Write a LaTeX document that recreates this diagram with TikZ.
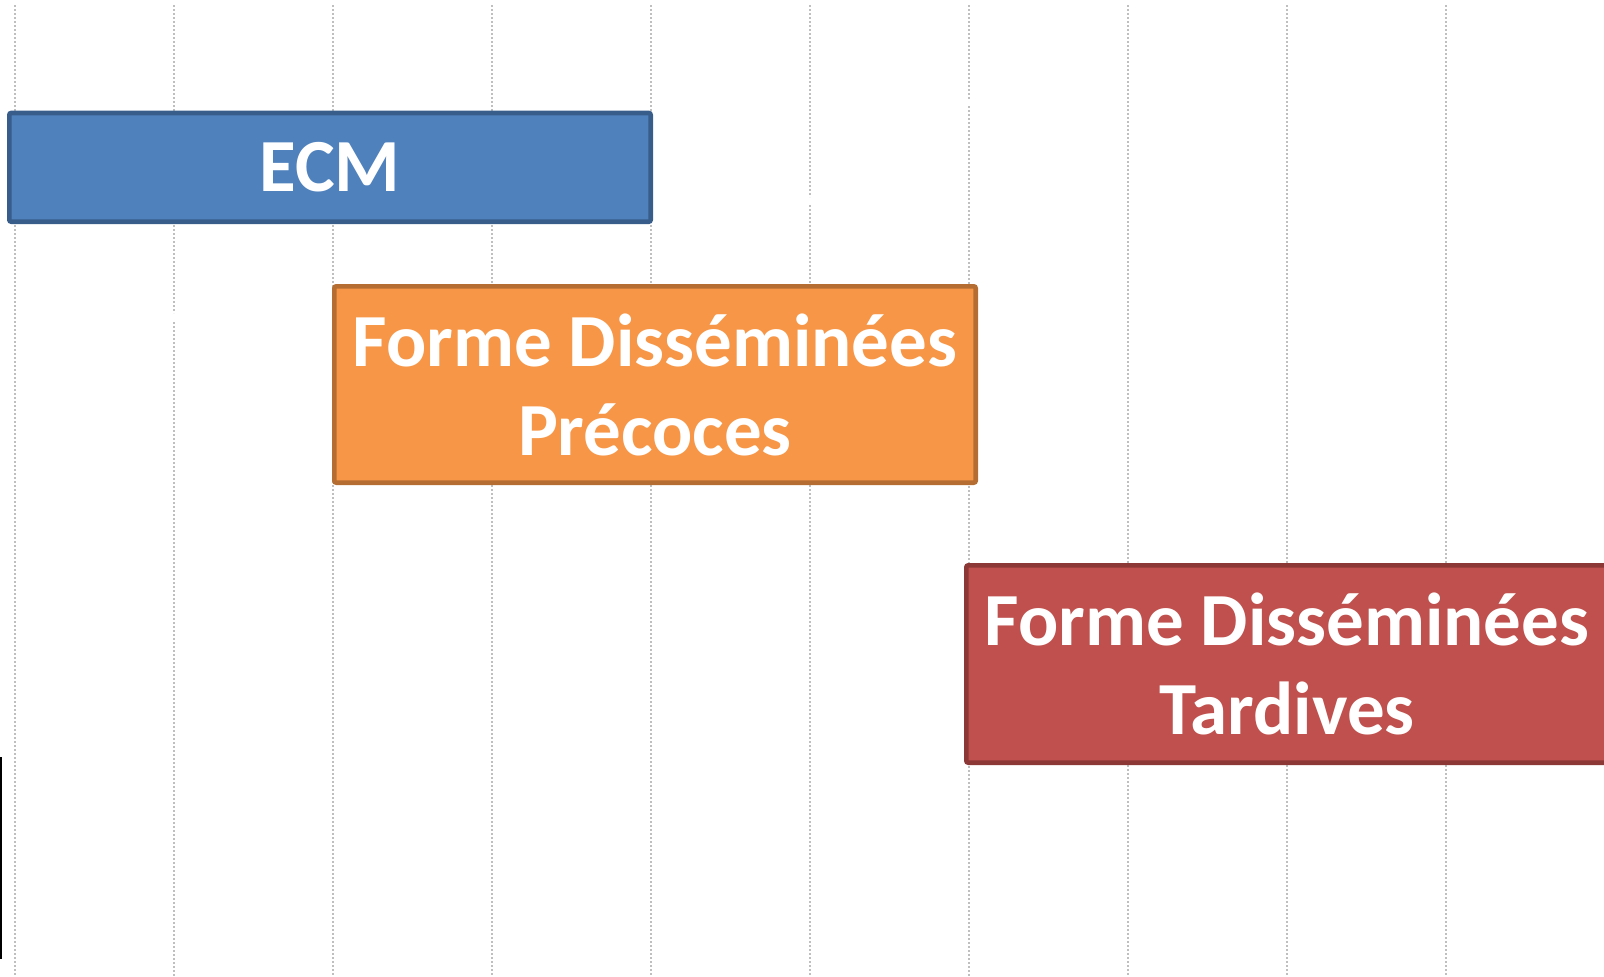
\documentclass[tikz,border=0pt]{standalone}
\usepackage{fontspec}
\setmainfont{Carlito}
\definecolor{ecmfill}{HTML}{4F81BD}
\definecolor{ecmdraw}{HTML}{385D8A}
\definecolor{prefill}{HTML}{F79646}
\definecolor{predraw}{HTML}{B66D31}
\definecolor{tarfill}{HTML}{C0504D}
\definecolor{tardraw}{HTML}{8C3836}
\definecolor{gridgray}{HTML}{BFBFBF}
\tikzset{
  phasebox/.style={rectangle, rounded corners=2pt, line width=4.7pt, inner sep=0pt,
    minimum width=641.3pt, text=white, align=center,
    font=\fontsize{75}{89}\selectfont\bfseries},
  gridline/.style={draw=gridgray, line width=2pt, dash pattern=on 2pt off 2pt},
}
\begin{document}
\begin{tikzpicture}[x=1pt,y=-1pt]
\useasboundingbox (0,0) rectangle (1604,977);
\clip (0,0) rectangle (1604,977);
% vertical dotted grid lines
\foreach \k in {0,...,9}{
  \coordinate (gt\k) at (15.3+159*\k,5);
  \coordinate (gb\k) at (15.3+159*\k,977);
}
\foreach \k in {0,2,3,4,7,8,9}{
  \draw[gridline] (gt\k) -- (gb\k);
}
% lines with small gaps
\coordinate (g1a) at (174.3,313);
\coordinate (g1b) at (174.3,322);
\draw[gridline] (gt1) -- (g1a);
\draw[gridline] (g1b) -- (gb1);
\coordinate (g5a) at (810.3,197);
\coordinate (g5b) at (810.3,205);
\draw[gridline] (gt5) -- (g5a);
\draw[gridline] (g5b) -- (gb5);
\coordinate (g6a) at (969.3,100);
\coordinate (g6b) at (969.3,106);
\draw[gridline] (gt6) -- (g6a);
\draw[gridline] (g6b) -- (gb6);
% left black mark
\coordinate (la) at (1,757);
\coordinate (lb) at (1,959);
\draw[black, line width=1.6pt] (la) -- (lb);
% boxes
\node[phasebox, fill=ecmfill, draw=ecmdraw, minimum height=108.7pt] (ecm) at (330,167.35) {ECM};
\node[phasebox, fill=prefill, draw=predraw, minimum height=196.3pt] (pre) at (655,384.5) {Forme Disséminées\\Précoces};
\node[phasebox, fill=tarfill, draw=tardraw, minimum height=197.3pt] (tar) at (1287,664) {Forme Disséminées\\Tardives};
\end{tikzpicture}
\end{document}
